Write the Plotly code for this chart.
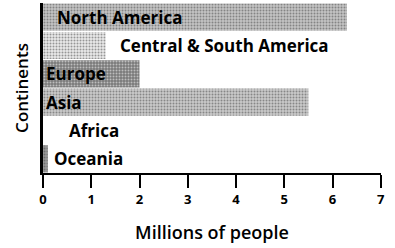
import plotly.graph_objects as go

continents = ["North America", "Central & South America", "Europe", "Asia", "Africa", "Oceania"]
millions = [6.3, 1.3, 2.0, 5.5, 0.3, 0.1]
x_ticks = [0, 1, 2, 3, 4, 5, 6, 7]

bar_bg = ["#c4c4c4", "#e9e9e9", "#7a7a7a", "#cacaca", "#ffffff", "#9a9a9a"]
bar_fg = ["#555555", "#aaaaaa", "#222222", "#666666", "#ffffff", "#444444"]
bar_shape = [".", ".", ".", ".", "", "."]
label_inside = [True, False, True, True, False, False]
label_shift = [12, 12, 1, 1, 10, 4]

fig = go.Figure()
fig.add_trace(go.Bar(
    y=continents, x=millions, orientation="h",
    marker=dict(color=bar_bg, line=dict(width=0),
                pattern=dict(shape=bar_shape, fgcolor=bar_fg, bgcolor=bar_bg, size=3, solidity=0.35)),
    hoverinfo="skip", showlegend=False,
))

for c, v, inside, sh in zip(continents, millions, label_inside, label_shift):
    fig.add_annotation(x=0 if inside else v, y=c, text=c, showarrow=False,
                       xanchor="left", yanchor="middle", xshift=sh,
                       font=dict(family="Open Sans", size=17, color="black", weight="bold"))

fig.update_layout(
    width=395, height=248,
    margin=dict(l=43, r=14, t=3, b=75, autoexpand=False),
    paper_bgcolor="white", plot_bgcolor="white",
    bargap=0.04,
    xaxis=dict(range=[0, 7.005], tickvals=x_ticks, ticktext=[str(t) for t in x_ticks],
               automargin=False,
               showgrid=False, zeroline=False, showline=True, linecolor="black", linewidth=2,
               ticks="outside", ticklen=13, tickwidth=2, tickcolor="black",
               tickfont=dict(family="Open Sans", size=13, color="black", weight="bold"),
               title=dict(text="Millions of people", standoff=20,
                          font=dict(family="Open Sans", size=18, color="black", weight=600))),
    yaxis=dict(categoryorder="array", categoryarray=continents[::-1],
               automargin=False,
               showticklabels=False, showgrid=False, zeroline=False,
               showline=True, linecolor="black", linewidth=3, ticks="",
               title=dict(text="Continents", standoff=8,
                          font=dict(family="Open Sans", size=17, color="black", weight=600))),
)

fig.write_html("out.html", config={"displayModeBar": False},
               post_script="document.body.style.margin='0';document.body.style.overflow='hidden';")
